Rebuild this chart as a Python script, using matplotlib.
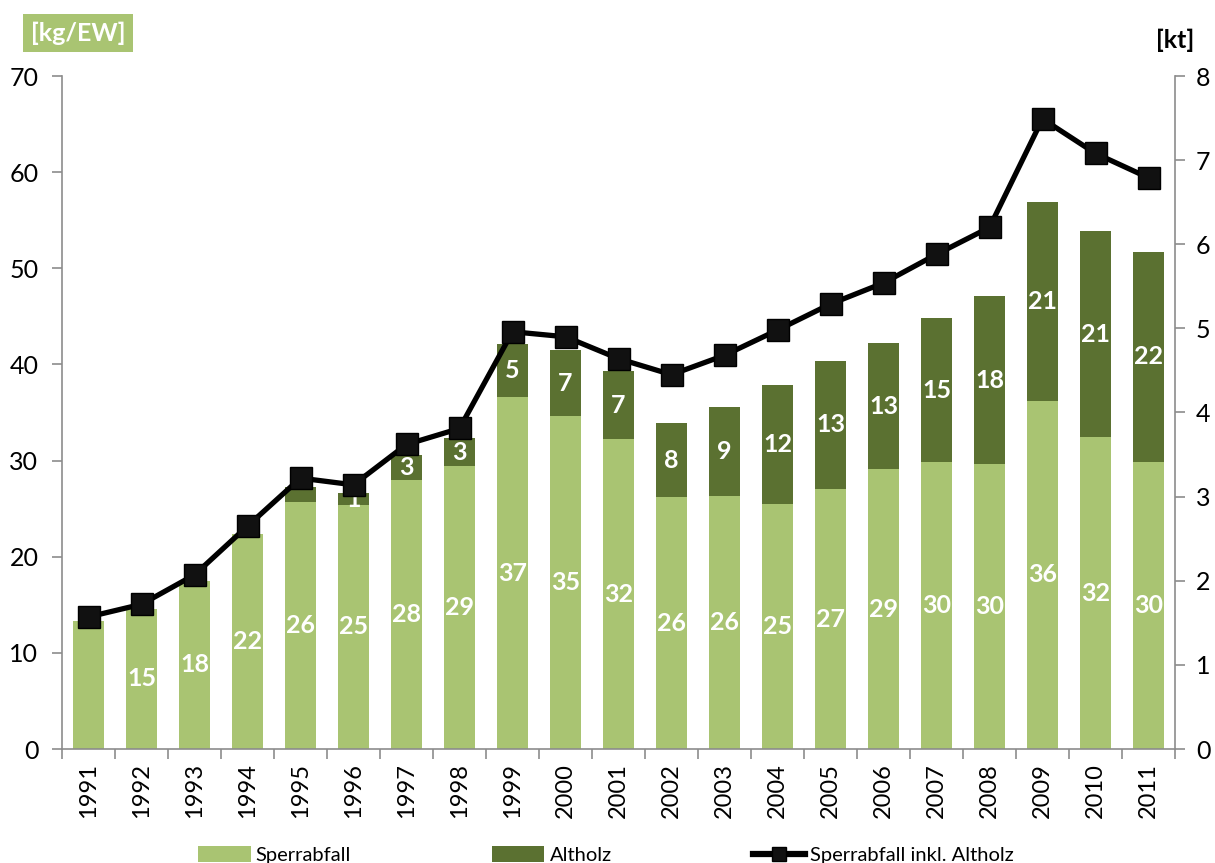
import matplotlib
matplotlib.use("Agg")
import matplotlib.pyplot as plt
from matplotlib.lines import Line2D
import numpy as np

plt.rcParams['font.family'] = ['Lato', 'DejaVu Sans']

years = [str(y) for y in range(1991, 2012)]
sperrabfall = [13.3, 14.6, 17.5, 22.4, 25.7, 25.4, 28.0, 29.4, 36.6, 34.6, 32.2,
               26.2, 26.3, 25.5, 27.0, 29.1, 29.8, 29.6, 36.2, 32.4, 29.9]
altholz = [0, 0, 0, 0, 1.5, 1.2, 2.6, 2.9, 5.5, 6.9, 7.1,
           7.7, 9.3, 12.4, 13.4, 13.1, 15.0, 17.5, 20.7, 21.5, 21.8]
gesamt_kt = [1.57, 1.72, 2.07, 2.65, 3.22, 3.14, 3.62, 3.81, 4.96, 4.90, 4.64,
             4.45, 4.68, 4.98, 5.29, 5.54, 5.88, 6.20, 7.49, 7.08, 6.79]
sperr_labels = ["", "15", "18", "22", "26", "25", "28", "29", "37", "35", "32",
                "26", "26", "25", "27", "29", "30", "30", "36", "32", "30"]
alt_labels = ["", "", "", "", "", "1", "3", "3", "5", "7", "7",
              "8", "9", "12", "13", "13", "15", "18", "21", "21", "22"]

light = "#A9C472"
dark = "#5B7131"
grey = "#8C8C8C"

fig = plt.figure(figsize=(12.15, 8.63), dpi=100)
ax = fig.add_axes([62/1215, 1-749/863, (1175-62)/1215, (749-76)/863])
x = np.arange(len(years))

b1 = ax.bar(x, sperrabfall, width=0.6, color=light, label="Sperrabfall")
b2 = ax.bar(x, altholz, width=0.6, bottom=sperrabfall, color=dark, label="Altholz")
ax.bar_label(b1, labels=sperr_labels, label_type='center', color='white',
             fontsize=18, fontweight='bold')
ax.bar_label(b2, labels=alt_labels, label_type='center', color='white',
             fontsize=18, fontweight='bold')

ax.set_xlim(-0.5, len(years) - 0.5)
ax.set_ylim(0, 70)
ax.set_yticks(range(0, 71, 10))
ax.set_xticks(x)
ax.set_xticklabels(years, rotation=90, fontsize=17)
ax.set_xticks(np.arange(-0.5, len(years)), minor=True)
ax.tick_params(axis='x', which='major', length=0, pad=10)
ax.tick_params(axis='x', which='minor', length=7, color=grey, width=1.2)
ax.tick_params(axis='y', length=7, color=grey, width=1.2, labelsize=18, pad=10)
for s in ['top', 'right']:
    ax.spines[s].set_visible(False)
for s in ['left', 'bottom']:
    ax.spines[s].set_color(grey)
    ax.spines[s].set_linewidth(1.2)

ax2 = ax.twinx()
ax2.plot(x, gesamt_kt, color='black', linewidth=3.8, marker='s',
         markersize=16, markerfacecolor='#111111', markeredgecolor='black')
ax2.set_ylim(0, 8)
ax2.set_yticks(range(0, 9))
ax2.tick_params(axis='y', length=7, color=grey, width=1.2, labelsize=18, pad=8)
for s in ['top', 'left', 'bottom']:
    ax2.spines[s].set_visible(False)
ax2.spines['right'].set_color(grey)
ax2.spines['right'].set_linewidth(1.2)

fig.text(78/1215, 1-33/863, "[kg/EW]", fontsize=18, fontweight='bold', color='white',
         ha='center', va='center',
         bbox=dict(boxstyle='square,pad=0.3', facecolor=light, edgecolor='none'))
fig.text(1175/1215, 1-40/863, "[kt]", fontsize=18, fontweight='bold', color='black',
         ha='center', va='center')

ln = Line2D([], [], color='black', linewidth=4.5, marker='s', markersize=10,
            markerfacecolor='#111111', label="Sperrabfall inkl. Altholz")
fig.legend(handles=[b1, b2, ln], loc='center', bbox_to_anchor=(606/1215, 1-855/863),
           ncol=3, frameon=False, fontsize=14.5, handlelength=2.6, handleheight=0.8,
           columnspacing=7.0, handletextpad=0.25)

fig.savefig("out.png", dpi=100)
